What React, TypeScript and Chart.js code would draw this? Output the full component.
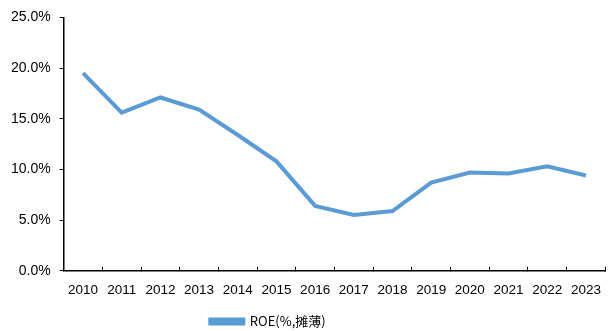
import React, { useEffect, useRef } from "react";
import { Chart, registerables } from "chart.js";

Chart.register(...registerables);

const categories = ["2010", "2011", "2012", "2013", "2014", "2015", "2016", "2017", "2018", "2019", "2020", "2021", "2022", "2023"];
const roeValues = [19.5, 15.6, 17.1, 15.9, 13.4, 10.8, 6.4, 5.5, 5.9, 8.7, 9.7, 9.6, 10.3, 9.4];
const seriesLabel = "ROE(%,摊薄)";
const yTicks = [0, 5, 10, 15, 20, 25];

const legendShift = {
  id: "legendShift",
  beforeDraw(chart: any) {
    const lg = chart.legend;
    if (lg && !lg._shifted) {
      lg.right = lg.right - 80;
      lg._shifted = true;
      lg.adjustHitBoxes && lg.adjustHitBoxes();
    }
  },
};

export default function App() {
  const ref = useRef<HTMLCanvasElement | null>(null);
  useEffect(() => {
    if (!ref.current) return;
    const blue = "#5B9BD5";
    const chart = new Chart(ref.current, {
      type: "line",
      data: {
        labels: categories,
        datasets: [
          {
            label: seriesLabel,
            data: roeValues,
            borderColor: blue,
            backgroundColor: blue,
            borderWidth: 4,
            pointRadius: 0,
            tension: 0,
          },
        ],
      },
      plugins: [legendShift],
      options: {
        animation: false,
        responsive: false,
        maintainAspectRatio: false,
        layout: { padding: { left: 2, right: 2, top: 8, bottom: -7 } },
        plugins: {
          tooltip: { enabled: false },
          legend: {
            position: "bottom",
            labels: {
              boxWidth: 33,
              boxHeight: 4,
              color: "#000",
              padding: 2,
              font: { family: "'Noto Sans CJK SC', 'Liberation Sans'", size: 13 },
            },
          },
        },
        scales: {
          x: {
            offset: true,
            grid: {
              offset: true,
              drawOnChartArea: false,
              drawTicks: true,
              tickLength: -4,
              color: "#000",
              lineWidth: 1,
            },
            border: { display: true, color: "#000", width: 1.5 },
            ticks: {
              color: "#000",
              padding: 15,
              maxRotation: 0,
              autoSkip: false,
              font: { family: "'Liberation Sans'", size: 13.5 },
            },
          },
          y: {
            min: 0,
            max: 25,
            afterBuildTicks: (axis: any) => {
              axis.ticks = yTicks.map((v) => ({ value: v }));
            },
            grid: {
              drawOnChartArea: false,
              drawTicks: true,
              tickLength: 4,
              color: "#000",
            },
            border: { display: true, color: "#000", width: 1.5 },
            ticks: {
              color: "#000",
              padding: 9,
              font: { family: "'Liberation Sans'", size: 14 },
              callback: (v: any) => Number(v).toFixed(1) + "%",
            },
          },
        },
      },
    });
    return () => chart.destroy();
  }, []);
  return (
    <div style={{ position: "fixed", left: 0, top: 0, width: 616, height: 331, background: "#fff" }}>
      <canvas ref={ref} width={616} height={331} style={{ width: 616, height: 331 }} />
    </div>
  );
}
